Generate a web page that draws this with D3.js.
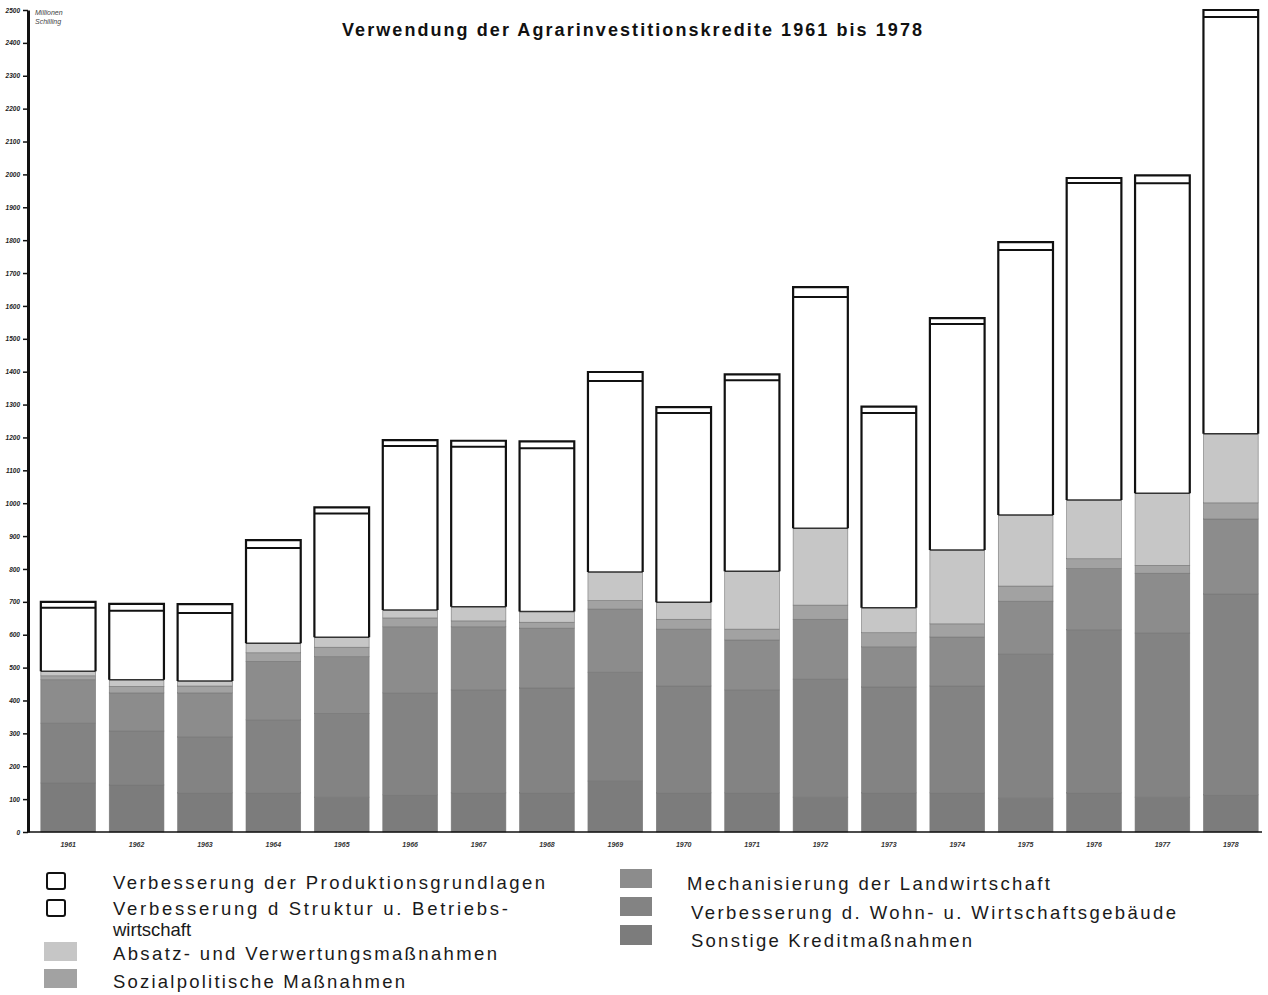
<!DOCTYPE html>
<html>
<head>
<meta charset="utf-8">
<script src="https://cdn.jsdelivr.net/npm/d3@7"></script>
<style>
  html, body { margin: 0; padding: 0; background: #fff; }
  svg { display: block; }
</style>
</head>
<body>
<svg id="chart" width="1268" height="995"></svg>
<script>
// ---------- data (Millionen Schilling) ----------
const years = ["1961","1962","1963","1964","1965","1966","1967","1968","1969",
               "1970","1971","1972","1973","1974","1975","1976","1977","1978"];
const produktion     = [18, 21, 27, 24, 18, 18, 18, 21, 27, 18, 18, 30, 20, 18, 24, 15, 24, 21];
const struktur       = [193, 210, 207, 290, 377, 499, 487, 496, 581, 575, 581, 703, 592, 687, 806, 964, 943, 1268];
const absatz         = [14, 20, 15, 29, 30, 24, 43, 33, 87, 52, 176, 234, 76, 225, 216, 179, 219, 210];
const sozial         = [12, 20, 21, 26, 29, 27, 18, 18, 26, 30, 33, 43, 43, 40, 46, 30, 24, 49];
const mechanisierung = [132, 116, 134, 178, 172, 201, 192, 182, 192, 173, 152, 182, 122, 149, 161, 186, 182, 228];
const wohn           = [182, 164, 170, 222, 255, 310, 313, 319, 331, 325, 313, 359, 322, 325, 438, 496, 499, 611];
const sonstige       = [149, 143, 119, 119, 106, 113, 119, 119, 155, 119, 119, 106, 119, 119, 103, 119, 106, 113];

const yTickValues = [0,100,200,300,400,500,600,700,800,900,1000,1100,1200,1300,
                     1400,1500,1600,1700,1800,1900,2000,2100,2200,2300,2400,2500];

const title = "Verwendung der Agrarinvestitionskredite 1961 bis 1978";
const unitLines = ["Millionen", "Schilling"];

// series keys bottom -> top
const keys = ["sonstige","wohn","mechanisierung","sozial","absatz","struktur","produktion"];
const seriesData = { sonstige, wohn, mechanisierung, sozial, absatz, struktur, produktion };
const labels = {
  produktion: ["Verbesserung der Produktionsgrundlagen"],
  struktur: ["Verbesserung d  Struktur u. Betriebs-", "wirtschaft"],
  absatz: ["Absatz- und Verwertungsmaßnahmen"],
  sozial: ["Sozialpolitische Maßnahmen"],
  mechanisierung: ["Mechanisierung der Landwirtschaft"],
  wohn: ["Verbesserung d. Wohn- u. Wirtschaftsgebäude"],
  sonstige: ["Sonstige Kreditmaßnahmen"]
};
const colors = {
  produktion: "#ffffff",
  struktur: "#ffffff",
  absatz: "#c6c6c6",
  sozial: "#a2a2a2",
  mechanisierung: "#8c8c8c",
  wohn: "#838383",
  sonstige: "#7c7c7c"
};

// ---------- layout ----------
const svg = d3.select("#chart");
const axisX = 28;
const y = d3.scaleLinear().domain([0, 2500]).range([832, 10]);
const x = d3.scaleBand().domain(years).range([34, 1265]).paddingInner(0.2).paddingOuter(0.1);

const table = years.map((yr, i) => {
  const row = { year: yr };
  keys.forEach(k => row[k] = seriesData[k][i]);
  return row;
});
const stacked = d3.stack().keys(keys)(table);

// title
svg.append("text")
  .attr("x", 632).attr("y", 36)
  .attr("text-anchor", "middle")
  .attr("font-family", "Liberation Sans, Arial, sans-serif")
  .attr("font-weight", "bold")
  .attr("font-size", 18)
  .attr("textLength", 580)
  .attr("lengthAdjust", "spacing")
  .attr("fill", "#111")
  .text(title);

// unit label
svg.append("g").selectAll("text").data(unitLines).join("text")
  .attr("x", 35).attr("y", (d, i) => 15 + i * 9)
  .attr("font-family", "Liberation Sans, Arial, sans-serif")
  .attr("font-style", "italic")
  .attr("font-size", 7)
  .attr("fill", "#444")
  .text(d => d);

// bars
const gBars = svg.append("g");
stacked.forEach(layer => {
  const isWhite = layer.key === "struktur" || layer.key === "produktion";
  gBars.append("g").selectAll("rect").data(layer).join("rect")
    .attr("x", d => x(d.data.year))
    .attr("width", x.bandwidth())
    .attr("y", d => y(d[1]))
    .attr("height", d => y(d[0]) - y(d[1]))
    .attr("fill", colors[layer.key])
    .attr("stroke", isWhite ? "none" : "#777")
    .attr("stroke-width", isWhite ? 0 : 0.6);
});

// outline of white part (Struktur + Produktion)
const sStr = stacked.find(s => s.key === "struktur");
const sProd = stacked.find(s => s.key === "produktion");
const gOut = svg.append("g");
gOut.selectAll("line.bottom").data(sStr).join("line")
  .attr("x1", d => x(d.data.year)).attr("x2", d => x(d.data.year) + x.bandwidth())
  .attr("y1", d => y(d[0])).attr("y2", d => y(d[0]))
  .attr("stroke", "#333").attr("stroke-width", 1.5);
gOut.selectAll("path.outline").data(sProd).join("path")
  .attr("d", (d, i) => {
    const x0 = x(d.data.year), x1 = x0 + x.bandwidth();
    const yb = y(sStr[i][0]), yt = y(d[1]);
    return `M${x0},${yb}L${x0},${yt}L${x1},${yt}L${x1},${yb}`;
  })
  .attr("fill", "none").attr("stroke", "#111").attr("stroke-width", 2.2);
gOut.selectAll("line.div").data(sProd).join("line")
  .attr("x1", d => x(d.data.year)).attr("x2", d => x(d.data.year) + x.bandwidth())
  .attr("y1", d => y(d[0])).attr("y2", d => y(d[0]))
  .attr("stroke", "#111").attr("stroke-width", 2);

// y axis
const yAxis = svg.append("g")
  .attr("transform", `translate(${axisX},0)`)
  .call(d3.axisLeft(y).tickValues(yTickValues).tickFormat(d3.format("d"))
        .tickSize(5).tickSizeOuter(0).tickPadding(3));
yAxis.select(".domain").attr("stroke", "#111").attr("stroke-width", 3);
yAxis.selectAll(".tick line").attr("stroke", "#111").attr("stroke-width", 1.5);
yAxis.selectAll(".tick text")
  .attr("font-family", "Liberation Sans, Arial, sans-serif")
  .attr("font-style", "italic").attr("font-weight", "bold")
  .attr("font-size", 6.5).attr("fill", "#222");

// x axis / baseline
svg.append("line")
  .attr("x1", axisX).attr("x2", x.range()[1] - 3)
  .attr("y1", y(0)).attr("y2", y(0))
  .attr("stroke", "#111").attr("stroke-width", 1.5);
const xAxis = svg.append("g")
  .attr("transform", `translate(0,${y(0)})`)
  .call(d3.axisBottom(x).tickSize(0).tickPadding(10));
xAxis.select(".domain").remove();
xAxis.selectAll(".tick text")
  .attr("font-family", "Liberation Sans, Arial, sans-serif")
  .attr("font-style", "italic").attr("font-weight", "bold")
  .attr("font-size", 7).attr("fill", "#333");

// legend
const legendItems = [
  { key: "produktion", bx: 47, by: 873, bw: 18, bh: 16, tx: 113, ty: 889, widths: [432] },
  { key: "struktur", bx: 47, by: 900, bw: 18, bh: 16, tx: 113, ty: 915, widths: [395, null] },
  { key: "absatz", bx: 44, by: 942, bw: 33, bh: 19, tx: 113, ty: 960, widths: [384] },
  { key: "sozial", bx: 44, by: 969, bw: 33, bh: 19, tx: 113, ty: 988, widths: [292] },
  { key: "mechanisierung", bx: 620, by: 869, bw: 32, bh: 19, tx: 687, ty: 890, widths: [363] },
  { key: "wohn", bx: 620, by: 897, bw: 32, bh: 19, tx: 691, ty: 919, widths: [485] },
  { key: "sonstige", bx: 620, by: 925, bw: 32, bh: 20, tx: 691, ty: 947, widths: [281] }
];
const gLeg = svg.append("g");
legendItems.forEach(it => {
  const white = it.key === "produktion" || it.key === "struktur";
  gLeg.append("rect")
    .attr("x", it.bx).attr("y", it.by).attr("width", it.bw).attr("height", it.bh)
    .attr("fill", colors[it.key])
    .attr("stroke", white ? "#111" : "none")
    .attr("stroke-width", white ? 2 : 0)
    .attr("rx", white ? 2 : 0);
  labels[it.key].forEach((line, j) => {
    const t = gLeg.append("text")
      .attr("x", it.tx).attr("y", it.ty + j * 21)
      .attr("font-family", "Liberation Sans, Arial, sans-serif")
      .attr("font-size", 18.5)
      .attr("fill", "#1a1a1a")
      .text(line);
    if (it.widths[j]) t.attr("textLength", it.widths[j]).attr("lengthAdjust", "spacing");
  });
});
</script>
</body>
</html>
